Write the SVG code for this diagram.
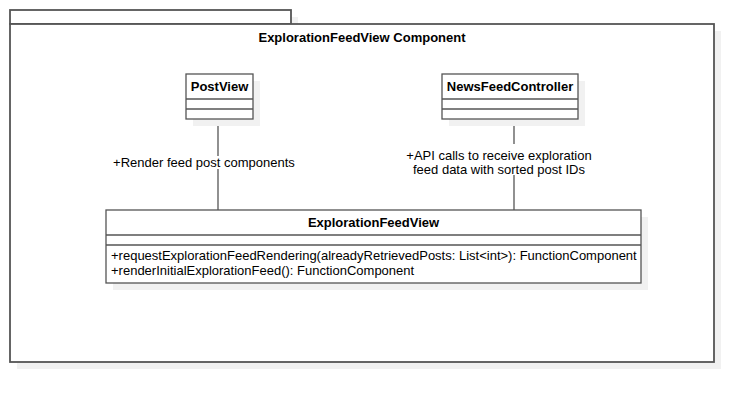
<svg xmlns="http://www.w3.org/2000/svg" width="755" height="402" viewBox="0 0 755 402">
<style>
.shadow{fill:#f1f1f1;stroke:none}
.box{fill:#ffffff;stroke:#555555;stroke-width:1.3}
.pkg{fill:#ffffff;stroke:#555555;stroke-width:1.8}
.div{stroke:#555555;stroke-width:1.3}
.edge{stroke:#555555;stroke-width:1.3;fill:none}
text{font-family:"Liberation Sans",Arial,sans-serif;font-size:13px;fill:#000000}
.b{font-weight:bold}
.mid{text-anchor:middle}
.lblbg{fill:#ffffff;stroke:none}
</style>
<rect width="755" height="402" fill="#ffffff"/>
<g id="package">
<rect class="shadow" x="17" y="17" width="281" height="14"/>
<rect class="shadow" x="17" y="31" width="704" height="338"/>
<rect class="pkg" x="10" y="10" width="281" height="14"/>
<rect class="pkg" x="10" y="24" width="704" height="338"/>
<text class="b mid" x="362" y="42">ExplorationFeedView Component</text>
</g>
<g id="connectors">
<line class="edge" x1="218" y1="119" x2="218" y2="210"/>
<line class="edge" x1="514" y1="119" x2="514" y2="210"/>
<rect class="lblbg" x="112" y="156" width="184" height="13"/>
<text class="mid" x="204" y="167">+Render feed post components</text>
<rect class="lblbg" x="405" y="144" width="188" height="31"/>
<text class="mid" x="499" y="160">+API calls to receive exploration</text>
<text class="mid" x="499" y="174">feed data with sorted post IDs</text>
</g>
<g id="PostView">
<rect class="shadow" x="193" y="81" width="67" height="45"/>
<rect class="box" x="186" y="74" width="67" height="45"/>
<line class="div" x1="186" y1="99" x2="253" y2="99"/>
<line class="div" x1="186" y1="109" x2="253" y2="109"/>
<text class="b mid" x="219.5" y="91">PostView</text>
</g>
<g id="NewsFeedController">
<rect class="shadow" x="449" y="81" width="136" height="45"/>
<rect class="box" x="442" y="74" width="136" height="45"/>
<line class="div" x1="442" y1="99" x2="578" y2="99"/>
<line class="div" x1="442" y1="109" x2="578" y2="109"/>
<text class="b mid" x="510" y="91">NewsFeedController</text>
</g>
<g id="ExplorationFeedView">
<rect class="shadow" x="113" y="217" width="535" height="73"/>
<rect class="box" x="106" y="210" width="535" height="73"/>
<line class="div" x1="106" y1="235" x2="641" y2="235"/>
<line class="div" x1="106" y1="245" x2="641" y2="245"/>
<text class="b mid" x="373.5" y="227">ExplorationFeedView</text>
<text x="111" y="260">+requestExplorationFeedRendering(alreadyRetrievedPosts: List&lt;int&gt;): FunctionComponent</text>
<text x="111" y="275">+renderInitialExplorationFeed(): FunctionComponent</text>
</g>
</svg>
